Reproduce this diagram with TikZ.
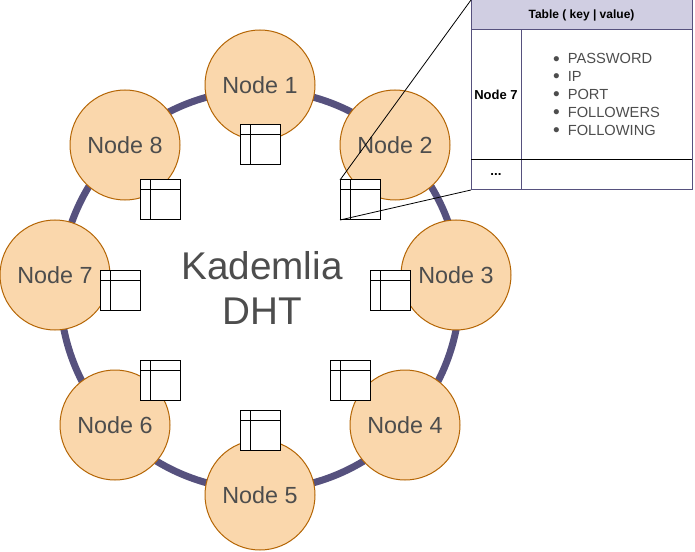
\documentclass[tikz,border=0pt]{standalone}
\usepackage{fontspec}
\setmainfont{Liberation Sans}
\usepackage{tikz}
\usepackage{xcolor}
\usetikzlibrary{positioning}

\definecolor{peerfill}{HTML}{FAD7AC}
\definecolor{peerdraw}{HTML}{B46504}
\definecolor{ringcol}{HTML}{56517E}
\definecolor{headfill}{HTML}{D0CEE2}
\definecolor{labelgray}{HTML}{4D4D4D}

\newcommand{\keybullet}{\raisebox{-1pt}{\scalebox{1.3}{\textbullet}}\hspace{6pt}}

\tikzset{
    peer/.style={circle, draw=peerdraw, fill=peerfill, line width=0.75pt,
        minimum size=82.5pt, inner sep=0pt, text=labelgray,
        font=\fontsize{17.5}{21}\selectfont},
    tabicon/.style={rectangle, draw=black, fill=white, line width=0.75pt,
        minimum width=30pt, minimum height=30pt, inner sep=0pt, outer sep=0pt},
    cell/.style={rectangle, draw=ringcol, line width=0.75pt, inner sep=0pt, outer sep=0pt},
}

\begin{document}
\begin{tikzpicture}[x=0.75pt, y=-0.75pt]
    \useasboundingbox (0,0) rectangle (695,552);

    % The DHT ring
    \draw[ringcol, line width=5.25pt] (260,290) circle (150pt);

    % Peers on the ring
    \foreach \n/\x/\y in {1/260/85, 2/395/145, 3/456/275, 4/405/425,
                          5/260/495, 6/115/425, 7/55/275, 8/125/145}
        \node[peer] (n\n) at (\x,\y) {Node \n};

    % A small table for every peer
    \foreach \n/\x/\y in {1/240/125, 2/340/180, 3/370/270, 4/330/360,
                          5/240/410, 6/140/360, 7/100/270, 8/140/180} {
        \node[tabicon] (t\n) at (\x+20,\y+20) {};
        \draw[line width=0.75pt] (t\n.north west) ++(0,10) -- ++(40,0);
        \draw[line width=0.75pt] (t\n.north west) ++(10,0) -- ++(0,40);
    }

    % Title in the middle
    \node[text=labelgray, align=center, font=\fontsize{29}{34}\selectfont]
        (title) at (262,288) {Kademlia\\DHT};

    % Table ( key | value)
    \node[cell, fill=headfill, minimum width=165.75pt, minimum height=22.5pt,
        font=\bfseries\fontsize{9}{11}\selectfont] (thead) at (581.5,15) {Table ( key | value)};
    \node[cell, minimum width=37.5pt, minimum height=97.5pt,
        font=\bfseries\fontsize{9.75}{12}\selectfont] (tkey) at (496,95) {\raisebox{-2pt}{Node 7}};
    \node[cell, minimum width=128.25pt, minimum height=97.5pt] (tval) at (606.5,95) {};
    \node[text=labelgray, align=left, font=\fontsize{11}{13.35}\selectfont] (tlist) at (tval.center)
        {\keybullet PASSWORD\\
         \keybullet IP\\
         \keybullet PORT\\
         \keybullet FOLLOWERS\\
         \keybullet FOLLOWING};
    \node[cell, minimum width=37.5pt, minimum height=22.5pt,
        font=\bfseries\fontsize{10}{12}\selectfont] (tmore) at (496,175) {\raisebox{-1.5pt}{...}};
    \node[cell, minimum width=128.25pt, minimum height=22.5pt] (tmoreval) at (606.5,175) {};
    \draw[line width=0.75pt] (tkey.south west) -- (tval.south east);

    % Zoom from Node 2's table
    \draw[line width=0.6pt] (t2.north west) -- (thead.north west);
    \draw[line width=0.6pt] (t2.south west) -- (tmore.south west);
\end{tikzpicture}
\end{document}
